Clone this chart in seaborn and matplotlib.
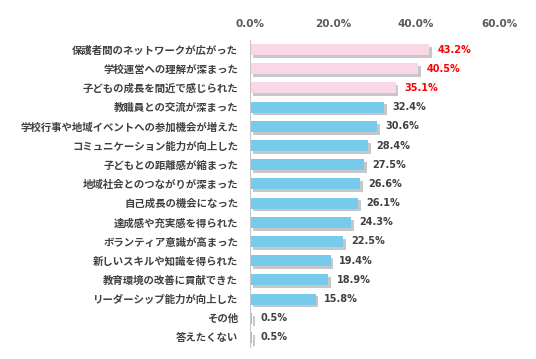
import matplotlib
matplotlib.use("Agg")
import matplotlib.pyplot as plt
import matplotlib.patheffects as pe
import seaborn as sns
import pandas as pd

categories = [
    "保護者間のネットワークが広がった",
    "学校運営への理解が深まった",
    "子どもの成長を間近で感じられた",
    "教職員との交流が深まった",
    "学校行事や地域イベントへの参加機会が増えた",
    "コミュニケーション能力が向上した",
    "子どもとの距離感が縮まった",
    "地域社会とのつながりが深まった",
    "自己成長の機会になった",
    "達成感や充実感を得られた",
    "ボランティア意識が高まった",
    "新しいスキルや知識を得られた",
    "教育環境の改善に貢献できた",
    "リーダーシップ能力が向上した",
    "その他",
    "答えたくない",
]
values = [43.2, 40.5, 35.1, 32.4, 30.6, 28.4, 27.5, 26.6, 26.1, 24.3, 22.5, 19.4, 18.9, 15.8, 0.5, 0.5]
highlight = [True, True, True] + [False] * 13
x_ticks = [0, 20, 40, 60]

PINK = "#F9D7E6"
BLUE = "#78CAEC"

df = pd.DataFrame({"item": categories, "value": values, "top": highlight})

sns.set_theme(style="white")
plt.rcParams["font.family"] = ["Noto Sans CJK JP", "DejaVu Sans"]

fig = plt.figure(figsize=(5.36, 3.59), dpi=100)
ax = fig.add_axes([0.4664, 0.0334, 0.4646, 0.8552])

palette = [PINK if t else BLUE for t in highlight]
sns.barplot(data=df, x="value", y="item", hue="item", palette=palette,
            legend=False, width=0.57, ax=ax, saturation=1)

# soft drop shadow like the original
for bar in ax.patches:
    bar.set_edgecolor("none")
    bar.set_path_effects([pe.SimplePatchShadow(offset=(2, -2), shadow_rgbFace="#9a9a9a", alpha=0.55),
                          pe.Normal()])

for i, (v, t) in enumerate(zip(values, highlight)):
    ax.text(v + 2.0, i, f"{v:.1f}%", va="center", ha="left",
            fontsize=7, fontweight="bold", family="DejaVu Sans",
            color="#FF0000" if t else "#404040")

ax.set_xlim(0, 60)
ax.set_xticks(x_ticks)
ax.set_xticklabels([f"{t:.1f}%" for t in x_ticks], family="DejaVu Sans",
                   fontsize=7.5, fontweight="bold", color="#595959")
ax.xaxis.tick_top()
ax.tick_params(axis="x", length=0, pad=8)
ax.tick_params(axis="y", length=0, pad=8.5)
for lab in ax.get_yticklabels():
    lab.set_fontsize(7.5)
    lab.set_fontweight("bold")
    lab.set_color("#404040")
ax.set_xlabel("")
ax.set_ylabel("")
for side in ["top", "right", "bottom"]:
    ax.spines[side].set_visible(False)
ax.spines["left"].set_color("#C8C8C8")
ax.spines["left"].set_linewidth(0.8)

fig.savefig("out.png", dpi=100)
